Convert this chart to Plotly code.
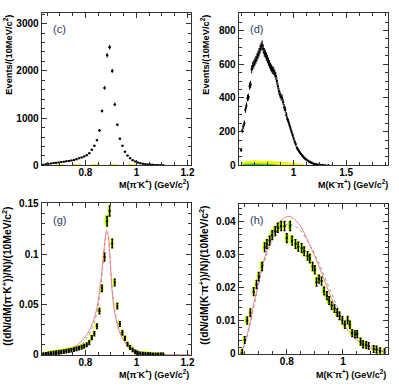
import numpy as np
import plotly.graph_objects as go

# ---------------- data ----------------
# (c) M(pi- K+) events / 10 MeV
c_x = [0.635, 0.645, 0.655, 0.665, 0.675, 0.685, 0.695, 0.705, 0.715, 0.725,
       0.735, 0.745, 0.755, 0.765, 0.775, 0.785, 0.795, 0.805, 0.815, 0.825,
       0.835, 0.845, 0.855, 0.865, 0.875, 0.885, 0.895, 0.905, 0.915, 0.925,
       0.935, 0.945, 0.955, 0.965, 0.975, 0.985, 0.995, 1.005, 1.015, 1.025,
       1.035, 1.045, 1.055, 1.065, 1.075, 1.085, 1.095, 1.105]
c_y = [15, 25, 32, 40, 48, 55, 62, 70, 78, 85,
       95, 105, 115, 130, 150, 168, 190, 215, 255, 330,
       414, 532, 740, 1150, 1640, 2330, 2500, 2000, 1290, 860,
       565, 415, 290, 207, 152, 110, 80, 62, 45, 35,
       27, 20, 16, 12, 9, 7, 5, 3]
c_bkg_x = [0.68, 1.0]
c_bkg_y = [6, 6]

# (d) M(K- pi+) events / 10 MeV
d_x = [0.50, 0.51, 0.52, 0.53, 0.54, 0.55, 0.56, 0.57, 0.58, 0.59,
       0.60, 0.61, 0.62, 0.63, 0.64, 0.65, 0.66, 0.67, 0.68, 0.69,
       0.70, 0.71, 0.72, 0.73, 0.74, 0.75, 0.76, 0.77, 0.78, 0.79,
       0.80, 0.81, 0.82, 0.83, 0.84, 0.85, 0.86, 0.87, 0.88, 0.89,
       0.90, 0.91, 0.92, 0.93, 0.94, 0.95, 0.96, 0.97, 0.98, 0.99,
       1.00, 1.01, 1.02, 1.03, 1.04, 1.05, 1.06, 1.07, 1.08, 1.09,
       1.10, 1.11, 1.12, 1.13, 1.14, 1.15, 1.16, 1.17, 1.18, 1.19,
       1.20, 1.21, 1.22, 1.23, 1.24, 1.25, 1.26, 1.27, 1.28, 1.30, 1.33]
d_y = [90, 205, 230, 250, 330, 355, 400, 405, 470, 480,
       570, 590, 600, 615, 625, 640, 655, 670, 690, 705,
       715, 690, 670, 660, 645, 630, 615, 600, 585, 575,
       565, 560, 545, 530, 500, 470, 440, 420, 405, 400,
       375, 345, 330, 300, 275, 260, 240, 220, 200, 180,
       160, 140, 125, 105, 95, 85, 75, 68, 60, 52,
       45, 40, 35, 30, 26, 22, 18, 15, 12, 10,
       8, 6, 5, 4, 3, 3, 2, 2, 1, 1, 1]
d_yel_x = [0.50, 0.55, 0.60, 0.65, 0.70, 0.75, 0.80, 0.85, 0.90, 0.95, 1.00, 1.05, 1.10]
d_yel_y = [18, 22, 25, 26, 24, 25, 22, 20, 18, 15, 12, 8, 3]
d_grn_x = [0.52, 0.56, 0.60, 0.65, 0.70, 0.75, 0.80, 0.84]
d_grn_y = [5, 7, 8, 8, 7, 6, 4, 2]

# (g) normalised M(pi- K+)
g_x = c_x
g_y = [0.0003, 0.0006, 0.0010, 0.0014, 0.0018, 0.0022, 0.0025, 0.0029, 0.0033, 0.0037,
       0.0042, 0.0047, 0.0052, 0.0060, 0.0068, 0.0076, 0.0086, 0.0100, 0.0122, 0.0171,
       0.0209, 0.0284, 0.0435, 0.0661, 0.0971, 0.1326, 0.1429, 0.1106, 0.0719, 0.0484,
       0.0306, 0.0219, 0.0164, 0.0106, 0.0074, 0.0051, 0.0030, 0.0018, 0.0012, 0.0008,
       0.0006, 0.0004, 0.0003, 0.0002, 0.0002, 0.0001, 0.0001, 0.0001]
g_red_x = [0.63, 0.66, 0.70, 0.74, 0.776, 0.80, 0.827, 0.845, 0.86, 0.87, 0.877, 0.882,
           0.888, 0.895, 0.90, 0.91, 0.931, 0.957, 0.983, 1.02, 1.10, 1.21]
g_red_y = [0.0, 0.0008, 0.0025, 0.0055, 0.0116, 0.018, 0.031, 0.047, 0.073, 0.097, 0.115, 0.1235,
           0.120, 0.100, 0.080, 0.050, 0.0245, 0.0116, 0.005, 0.0015, 0.0003, 0.0]
g_gry_x = [0.63, 0.66, 0.70, 0.74, 0.78, 0.80, 0.827, 0.845, 0.86, 0.87, 0.877, 0.883,
           0.889, 0.895, 0.90, 0.91, 0.931, 0.957, 0.983, 1.02, 1.10, 1.21]
g_gry_y = [0.0, 0.0006, 0.002, 0.0045, 0.0095, 0.015, 0.027, 0.042, 0.068, 0.094, 0.113, 0.121,
           0.119, 0.102, 0.082, 0.053, 0.026, 0.012, 0.0055, 0.0018, 0.0003, 0.0]

# (h) normalised M(K- pi+)
h_x = [0.641, 0.650, 0.659, 0.670, 0.682, 0.692, 0.700, 0.712, 0.721, 0.729,
       0.739, 0.748, 0.759, 0.768, 0.780, 0.792, 0.800, 0.812, 0.819, 0.831,
       0.841, 0.853, 0.862, 0.874, 0.882, 0.892, 0.900, 0.906, 0.915, 0.924,
       0.933, 0.943, 0.951, 0.960, 0.970, 0.980, 0.988, 0.998, 1.007, 1.017,
       1.025, 1.033, 1.043, 1.051, 1.063, 1.072, 1.083, 1.092, 1.110, 1.120,
       1.133, 1.149]
h_y = [0.0003, 0.0042, 0.0101, 0.0125, 0.0188, 0.0210, 0.0234, 0.0264, 0.0322, 0.0332,
       0.0342, 0.0359, 0.0371, 0.0381, 0.0386, 0.0386, 0.0350, 0.0386, 0.0342, 0.0332,
       0.0324, 0.0320, 0.0310, 0.0296, 0.0288, 0.0264, 0.0254, 0.0217, 0.0226, 0.0220,
       0.0190, 0.0176, 0.0161, 0.0146, 0.0137, 0.0125, 0.0115, 0.0102, 0.0088, 0.0102,
       0.0088, 0.0063, 0.0059, 0.0060, 0.0037, 0.0029, 0.0027, 0.0024, 0.0015, 0.0013,
       0.0008, 0.0005]
h_red_x = [0.635, 0.656, 0.686, 0.715, 0.745, 0.774, 0.809, 0.845, 0.880, 0.915,
           0.951, 0.986, 1.021, 1.057, 1.092, 1.151]
h_red_y = [0.0, 0.0049, 0.0166, 0.0273, 0.0351, 0.0400, 0.0415, 0.0390, 0.0332, 0.0264,
           0.0185, 0.0117, 0.0068, 0.0037, 0.0020, 0.0005]
h_gry_x = h_red_x
h_gry_y = [0.0, 0.0044, 0.0156, 0.0264, 0.0337, 0.0380, 0.0392, 0.0376, 0.0332, 0.0273,
           0.0200, 0.0132, 0.0083, 0.0049, 0.0027, 0.0008]

# ---------------- figure ----------------
W, H = 399, 392
FONT = "Liberation Sans"

def px_x(p):
    return p / W

def px_y(p):
    return 1 - p / H

dom = {
    "c": ([px_x(42), px_x(193)], [px_y(165), px_y(8)]),
    "d": ([px_x(241), px_x(392)], [px_y(165), px_y(8)]),
    "g": ([px_x(42), px_x(193)], [px_y(360), px_y(204)]),
    "h": ([px_x(241), px_x(392)], [px_y(359), px_y(205)]),
}

fig = go.Figure()

def err_pts(x, y, e, xa, ya, ex=None):
    fig.add_trace(go.Scatter(
        x=x, y=y, mode="markers", xaxis=xa, yaxis=ya,
        marker=dict(size=2, color="black", symbol="square"),
        error_y=dict(type="data", array=e, color="black", thickness=1, width=0),
        error_x=dict(type="constant", value=ex, color="black", thickness=1, width=0),
        showlegend=False, hoverinfo="skip"))

# (c)
fig.add_trace(go.Scatter(x=c_bkg_x, y=c_bkg_y, mode="lines", xaxis="x", yaxis="y",
                         line=dict(color="#f0e000", width=1.5, dash="dash"), showlegend=False))
err_pts(c_x, c_y, list(np.sqrt(c_y)), "x", "y", ex=0.005)

# (d)
fig.add_trace(go.Scatter(x=d_yel_x, y=d_yel_y, mode="lines", xaxis="x2", yaxis="y2",
                         fill="tozeroy", fillcolor="#f5f500", line=dict(color="#f5f500", width=1,
                         shape="spline"), showlegend=False))
fig.add_trace(go.Scatter(x=d_grn_x, y=d_grn_y, mode="lines", xaxis="x2", yaxis="y2",
                         fill="tozeroy", fillcolor="#22cc22", line=dict(color="#22cc22", width=1,
                         shape="spline"), showlegend=False))
err_pts(d_x, d_y, list(np.sqrt(d_y)), "x2", "y2", ex=0.005)

# (g)
g_b = [0.0018 + 0.022 * v for v in g_y]
g_e = [0.0016 + 0.024 * v for v in g_y]
fig.add_trace(go.Bar(x=g_x, y=[2 * b for b in g_b], base=[v - b for v, b in zip(g_y, g_b)],
                     width=0.009, xaxis="x3", yaxis="y3",
                     marker=dict(color="#1eea1e", line=dict(color="#ffff00", width=1)),
                     showlegend=False, hoverinfo="skip"))
fig.add_trace(go.Scatter(x=g_gry_x, y=g_gry_y, mode="lines", xaxis="x3", yaxis="y3",
                         line=dict(color="#999999", width=1, dash="dot", shape="spline"), showlegend=False))
fig.add_trace(go.Scatter(x=g_red_x, y=g_red_y, mode="lines", xaxis="x3", yaxis="y3",
                         line=dict(color="#f08080", width=1, shape="spline"), showlegend=False))
fig.add_trace(go.Scatter(x=g_x, y=g_y, mode="markers", xaxis="x3", yaxis="y3",
                         marker=dict(size=2, color="black", symbol="square"),
                         error_y=dict(type="data", array=g_e, color="black", thickness=1.3, width=1),
                         showlegend=False, hoverinfo="skip"))

# (h)
h_b = [0.0009 + 0.009 * v for v in h_y]
h_e = [0.0010 + 0.010 * v for v in h_y]
fig.add_trace(go.Bar(x=h_x, y=[2 * b for b in h_b], base=[v - b for v, b in zip(h_y, h_b)],
                     width=0.009, xaxis="x4", yaxis="y4",
                     marker=dict(color="#1eea1e", line=dict(color="#ffff00", width=1)),
                     showlegend=False, hoverinfo="skip"))
fig.add_trace(go.Scatter(x=h_gry_x, y=h_gry_y, mode="lines", xaxis="x4", yaxis="y4",
                         line=dict(color="#999999", width=1, dash="dot", shape="spline"), showlegend=False))
fig.add_trace(go.Scatter(x=h_red_x, y=h_red_y, mode="lines", xaxis="x4", yaxis="y4",
                         line=dict(color="#f08080", width=1, shape="spline"), showlegend=False))
fig.add_trace(go.Scatter(x=h_x, y=h_y, mode="markers", xaxis="x4", yaxis="y4",
                         marker=dict(size=2, color="black", symbol="square"),
                         error_y=dict(type="data", array=h_e, color="black", thickness=1.3, width=1),
                         showlegend=False, hoverinfo="skip"))

def b(s):
    return "<b>" + s + "</b>"

def ax(domain, rng, anchor, tickvals, ticktext, minor_dtick, is_x):
    return dict(domain=domain, range=rng, anchor=anchor, showline=True, linecolor="#333",
                linewidth=1, mirror="allticks", ticks="inside", ticklen=5, tickcolor="#333",
                tickwidth=1, showgrid=False, zeroline=False, tickvals=tickvals,
                ticktext=[b(t) for t in ticktext],
                ticklabelstandoff=(-2 if is_x else 0),
                tickfont=dict(family=FONT, size=10, color="black"),
                minor=dict(ticks="inside", ticklen=3, tickcolor="#333", dtick=minor_dtick,
                           showgrid=False),
                fixedrange=True)

fig.update_layout(
    width=W, height=H, margin=dict(l=0, r=0, t=0, b=0),
    paper_bgcolor="white", plot_bgcolor="white", barmode="overlay", bargap=0,
    xaxis=ax(dom["c"][0], [0.628, 1.214], "y", [0.8, 1.0, 1.2], ["0.8", "1", "1.2"], 0.05, True),
    yaxis=ax(dom["c"][1], [0, 3230], "x", [0, 1000, 2000, 3000], ["0", "1000", "2000", "3000"], 200, False),
    xaxis2=ax(dom["d"][0], [0.475, 1.9], "y2", [1.0, 1.5], ["1", "1.5"], 0.125, True),
    yaxis2=ax(dom["d"][1], [0, 905], "x2", [0, 200, 400, 600, 800], ["0", "200", "400", "600", "800"], 50, False),
    xaxis3=ax(dom["g"][0], [0.628, 1.214], "y3", [0.8, 1.0, 1.2], ["0.8", "1", "1.2"], 0.05, True),
    yaxis3=ax(dom["g"][1], [0, 0.1505], "x3", [0, 0.05, 0.1, 0.15], ["0", "0.05", "0.1", "0.15"], 0.01, False),
    xaxis4=ax(dom["h"][0], [0.628, 1.161], "y4", [0.8, 1.0], ["0.8", "1"], 0.05, True),
    yaxis4=ax(dom["h"][1], [0, 0.0452], "x4", [0, 0.01, 0.02, 0.03, 0.04],
              ["0", "0.01", "0.02", "0.03", "0.04"], 0.002, False),
)

lfont = dict(family=FONT, size=11, color="#2b3a6b")
ann = []
# panel labels
for lab, xp, yp in [("(c)", 52, 25), ("(d)", 251, 25), ("(g)", 52, 221), ("(h)", 251, 221)]:
    ann.append(dict(text=lab, x=px_x(xp), y=px_y(yp), xref="paper", yref="paper",
                    xanchor="left", yanchor="middle", showarrow=False, font=lfont))
# x titles
for t, xr, yp in [("M(π<sup>-</sup>K<sup>+</sup>) (GeV/c<sup>2</sup>)", 193, 184),
                  ("M(K<sup>-</sup>π<sup>+</sup>) (GeV/c<sup>2</sup>)", 394, 184),
                  ("M(π<sup>-</sup>K<sup>+</sup>) (GeV/c<sup>2</sup>)", 193, 380),
                  ("M(K<sup>-</sup>π<sup>+</sup>) (GeV/c<sup>2</sup>)", 392, 380)]:
    ann.append(dict(text=b(t), x=px_x(xr), y=px_y(yp), xref="paper", yref="paper",
                    xanchor="right", yanchor="middle", showarrow=False,
                    font=dict(family=FONT, size=9, color="black")))
# y titles
for t, xp, yt, fs in [("Events/(10MeV/c<sup>2</sup>)", 8, 8, 9.3),
                      ("Events/(10MeV/c<sup>2</sup>)", 207, 8, 9.3),
                      ("((dN/dM(π<sup>-</sup>K<sup>+</sup>))/N)/(10MeV/c<sup>2</sup>)", 7, 205, 10.3),
                      ("((dN/dM(K<sup>-</sup>π<sup>+</sup>))/N)/(10MeV/c<sup>2</sup>)", 206, 204, 10.3)]:
    ann.append(dict(text=b(t), x=px_x(xp), y=px_y(yt), xref="paper", yref="paper",
                    xanchor="center", yanchor="top", textangle=-90, showarrow=False,
                    font=dict(family=FONT, size=fs, color="black")))
fig.update_layout(annotations=ann)

fig.write_html("out.html", config={"displayModeBar": False},
               post_script="document.body.style.margin='0';")
